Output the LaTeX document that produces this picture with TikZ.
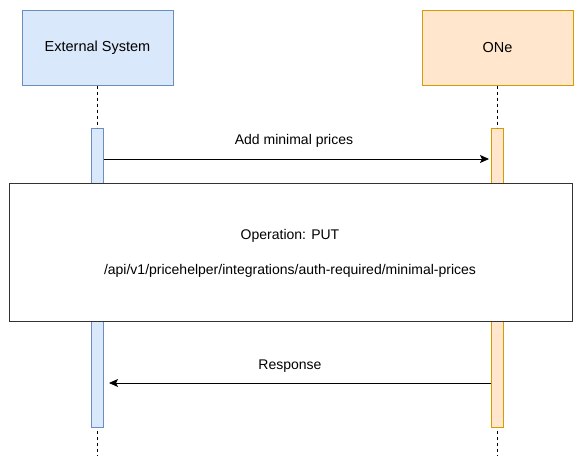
\documentclass[tikz,border=0pt]{standalone}
\usepackage{fontspec}
\setmainfont{Liberation Sans}
\usetikzlibrary{arrows.meta}
\definecolor{bluefill}{HTML}{DAE8FC}
\definecolor{blueline}{HTML}{6C8EBF}
\definecolor{orangefill}{HTML}{FFE6CC}
\definecolor{orangeline}{HTML}{D79B00}
\tikzset{
  actor/.style={draw, line width=1pt, minimum width=151pt, minimum height=75pt, inner sep=0pt, font=\fontsize{14.5}{16}\selectfont},
  activation/.style={draw, line width=1pt, minimum width=12pt, minimum height=299pt, inner sep=0pt},
  lifeline/.style={line width=0.8pt, dash pattern=on 3pt off 3pt},
  msg/.style={line width=0.8pt, -{Stealth[length=9pt,width=8pt,inset=2pt]}},
  lbl/.style={font=\fontsize{14}{16}\selectfont, inner sep=0pt},
  opbox/.style={draw=black!80, line width=1pt, fill=white, minimum width=563pt, minimum height=138pt, inner sep=0pt}
}
\begin{document}
\begin{tikzpicture}[x=1pt,y=-1pt]
\useasboundingbox (0,0) rectangle (582,463);
% actors
\node[actor, fill=bluefill, draw=blueline] (ext) at (97.5,47.5) {External System};
\node[actor, fill=orangefill, draw=orangeline] (one) at (497.5,47.5) {ONe};
% activations
\node[activation, fill=bluefill, draw=blueline] (actE) at (97.5,277.5) {};
\node[activation, fill=orangefill, draw=orangeline] (actO) at (497.5,277.5) {};
% lifelines
\coordinate (endE) at (97.5,456);
\coordinate (endO) at (497.5,456);
\draw[lifeline] (ext.south) -- (actE.north);
\draw[lifeline] (one.south) -- (actO.north);
\draw[lifeline] (actE.south) ++(0,3) -- (endE);
\draw[lifeline] (actO.south) ++(0,3) -- (endO);
% message 1
\coordinate (m1s) at (104,159);
\coordinate (m1e) at (489,159);
\draw[msg] (m1s) -- (m1e);
\node[lbl] (l1) at (294,141) {Add minimal prices};
% operation box
\node[opbox] (op) at (290.5,252) {};
\node[lbl] (optitle) at (290,236) {Operation: PUT};
\node[lbl] (oppath) at (290,271) {/api/v1/pricehelper/integrations/auth-required/minimal-prices};
% response
\coordinate (m2s) at (491,383);
\coordinate (m2e) at (109,383);
\draw[msg] (m2s) -- (m2e);
\node[lbl] (l2) at (290,366) {Response};
\end{tikzpicture}
\end{document}
